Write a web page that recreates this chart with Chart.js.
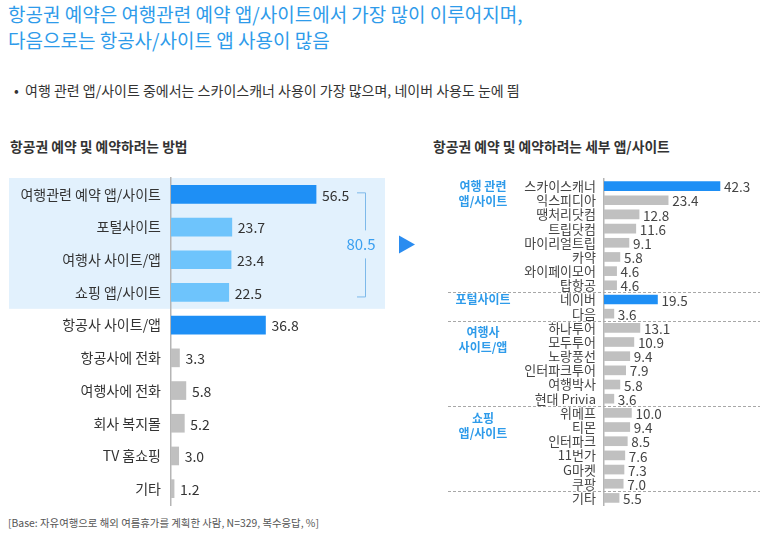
<!DOCTYPE html>
<html><head><meta charset="utf-8">
<script src="https://cdn.jsdelivr.net/npm/chart.js@4"></script>
<style>
body{margin:0;width:773px;height:541px;background:#fff;font-family:"Noto Sans CJK KR","Noto Sans",sans-serif;position:relative;overflow:hidden}
.abs{position:absolute;white-space:nowrap}
.title{left:8px;top:1px;color:#2e9bea;font-size:19px;line-height:26px}
.bullet{left:14px;top:81px;color:#333;font-size:14px;line-height:18px}
.sub{top:137px;color:#333;font-size:13.8px;line-height:18px;font-weight:bold}
.foot{left:8px;top:516px;color:#555;font-size:10.4px;line-height:14px}
canvas{position:absolute}
</style></head>
<body>
<div class="abs title">항공권 예약은 여행관련 예약 앱/사이트에서 가장 많이 이루어지며,<br>다음으로는 항공사/사이트 앱 사용이 많음</div>
<div class="abs bullet">•&nbsp;&nbsp;여행 관련 앱/사이트 중에서는 스카이스캐너 사용이 가장 많으며, 네이버 사용도 눈에 띔</div>
<div class="abs sub" style="left:10px">항공권 예약 및 예약하려는 방법</div>
<div class="abs sub" style="left:433px">항공권 예약 및 예약하려는 세부 앱/사이트</div>
<div class="abs foot">[Base: 자유여행으로 해외 여름휴가를 계획한 사람, N=329, 복수응답, %]</div>
<canvas id="left" width="420" height="340" style="left:0;top:170px"></canvas>
<canvas id="right" width="353" height="345" style="left:420px;top:170px"></canvas>
<script>
const leftCategories = ['여행관련 예약 앱/사이트','포털사이트','여행사 사이트/앱','쇼핑 앱/사이트','항공사 사이트/앱','항공사에 전화','여행사에 전화','회사 복지몰','TV 홈쇼핑','기타'];
const leftValues = [56.5,23.7,23.4,22.5,36.8,3.3,5.8,5.2,3.0,1.2];
const bracketLabel = '80.5';

const rightCategories = ['스카이스캐너','익스피디아','땡처리닷컴','트립닷컴','마이리얼트립','카약','와이페이모어','탑항공','네이버','다음','하나투어','모두투어','노랑풍선','인터파크투어','여행박사','현대 Privia','위메프','티몬','인터파크','11번가','G마켓','쿠팡','기타'];
const rightValues = [42.3,23.4,12.8,11.6,9.1,5.8,4.6,4.6,19.5,3.6,13.1,10.9,9.4,7.9,5.8,3.6,10.0,9.4,8.5,7.6,7.3,7.0,5.5];
const groupNames = [['여행 관련','앱/사이트'],['포털사이트'],['여행사','사이트/앱'],['쇼핑','앱/사이트']];
const groupStarts = [0,8,10,16];

const FONT = '"Noto Sans CJK KR","Noto Sans",sans-serif';
const BLUE = '#1e8ff5', LIGHT = '#6ec4fc', GRAY = '#c0c0c0';

function fixAxis(width){
  return function(s){ s.width = width; s.paddingTop = 0; s.paddingBottom = 0; };
}

const leftPlugin = {
  id:'leftDeco',
  beforeDraw(chart){
    const {ctx, chartArea} = chart;
    const step = (chartArea.bottom - chartArea.top) / leftCategories.length;
    ctx.save();
    ctx.fillStyle = '#e2f1fd';
    ctx.fillRect(9, chartArea.top, 376, step * 4);
    ctx.restore();
  },
  afterDatasetsDraw(chart){
    const {ctx} = chart;
    const meta = chart.getDatasetMeta(0);
    const y = chart.scales.y;
    ctx.save();
    ctx.font = '14px ' + FONT;
    ctx.fillStyle = '#333';
    ctx.textBaseline = 'middle';
    ctx.textAlign = 'left';
    meta.data.forEach((el, i) => {
      ctx.fillText(leftValues[i].toFixed(1), el.x + 6, el.y + 1);
    });
    // bracket
    const top = y.getPixelForValue(0) - 2, bot = y.getPixelForValue(3) + 4;
    const mid = (top + bot) / 2;
    ctx.strokeStyle = '#7db9ea';
    ctx.lineWidth = 1;
    ctx.beginPath();
    ctx.moveTo(357, top + .5); ctx.lineTo(365.5, top + .5); ctx.lineTo(365.5, mid - 14);
    ctx.moveTo(365.5, mid + 14); ctx.lineTo(365.5, bot + .5); ctx.lineTo(357, bot + .5);
    ctx.stroke();
    ctx.font = '15px ' + FONT;
    ctx.fillStyle = '#3a9ff0';
    ctx.textAlign = 'center';
    ctx.fillText(bracketLabel, 361, mid);
    // arrow
    ctx.fillStyle = '#2a8cf0';
    ctx.beginPath();
    ctx.moveTo(399, mid - 9); ctx.lineTo(415, mid); ctx.lineTo(399, mid + 9);
    ctx.closePath(); ctx.fill();
    ctx.restore();
  }
};

new Chart(document.getElementById('left'), {
  type:'bar',
  data:{labels:leftCategories, datasets:[{data:leftValues, barThickness:18,
    backgroundColor:ctx => (ctx.dataIndex === 0 || ctx.dataIndex === 4) ? BLUE : (ctx.dataIndex <= 3 ? LIGHT : GRAY)}]},
  options:{
    indexAxis:'y', responsive:false, animation:false,
    layout:{padding:{left:0,right:20,top:8,bottom:5}},
    plugins:{legend:{display:false}, tooltip:{enabled:false}},
    scales:{
      x:{display:false, min:0, max:89.2},
      y:{afterFit:fixAxis(171), grid:{display:false, drawTicks:false},
         border:{display:true, color:'#b5b5b5', width:1.5},
         ticks:{padding:10, color:'#333', font:{size:14, family:FONT}}}
    }
  },
  plugins:[leftPlugin]
});

const rightPlugin = {
  id:'rightDeco',
  afterDatasetsDraw(chart){
    const {ctx, chartArea} = chart;
    const y = chart.scales.y;
    const meta = chart.getDatasetMeta(0);
    const step = (chartArea.bottom - chartArea.top) / rightCategories.length;
    ctx.save();
    ctx.font = '13.5px ' + FONT;
    ctx.fillStyle = '#444';
    ctx.textBaseline = 'middle';
    ctx.textAlign = 'left';
    meta.data.forEach((el, i) => {
      ctx.fillText(rightValues[i].toFixed(1), el.x + 4, el.y + 1);
    });
    // separators
    ctx.strokeStyle = '#a8a8a8';
    ctx.lineWidth = 1;
    ctx.setLineDash([3,2]);
    const seps = groupStarts.slice(1).concat([rightCategories.length - 1]);
    seps.forEach(k => {
      const yy = Math.round(chartArea.top + k * step) + .5;
      ctx.beginPath(); ctx.moveTo(28, yy); ctx.lineTo(340, yy); ctx.stroke();
    });
    ctx.setLineDash([]);
    // group labels
    ctx.font = 'bold 12px ' + FONT;
    ctx.fillStyle = '#2e9bea';
    ctx.textAlign = 'center';
    const offs = [0, 0, 0.3, 0.4];
    groupNames.forEach((g, gi) => {
      g.forEach((line, li) => {
        ctx.fillText(line, 63, y.getPixelForValue(groupStarts[gi] + offs[gi] + li * 1.05));
      });
    });
    ctx.restore();
  }
};

new Chart(document.getElementById('right'), {
  type:'bar',
  data:{labels:rightCategories, datasets:[{data:rightValues, barThickness:9,
    backgroundColor:ctx => (ctx.dataIndex === 0 || ctx.dataIndex === 8) ? BLUE : GRAY}]},
  options:{
    indexAxis:'y', responsive:false, animation:false,
    layout:{padding:{left:0,right:10,top:9,bottom:10}},
    plugins:{legend:{display:false}, tooltip:{enabled:false}},
    scales:{
      x:{display:false, min:0, max:58},
      y:{afterFit:fixAxis(184), grid:{display:false, drawTicks:false},
         border:{display:true, color:'#b5b5b5', width:1.5},
         ticks:{padding:8, autoSkip:false, color:'#444', font:{size:13, family:FONT}}}
    }
  },
  plugins:[rightPlugin]
});
</script>
</body></html>
